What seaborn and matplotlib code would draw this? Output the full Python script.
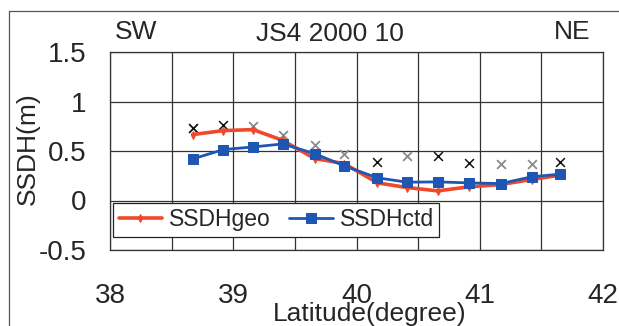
import numpy as np
import pandas as pd
import seaborn as sns
import matplotlib.pyplot as plt
from matplotlib.lines import Line2D

# --- data
lat = [38.67, 38.92, 39.16, 39.40, 39.66, 39.90, 40.17, 40.41, 40.66, 40.91, 41.17, 41.42, 41.65]
ssdh_geo = [0.666, 0.706, 0.716, 0.608, 0.424, 0.373, 0.178, 0.131, 0.097, 0.138, 0.161, 0.212, 0.255]
ssdh_ctd = [0.420, 0.514, 0.541, 0.571, 0.474, 0.350, 0.229, 0.185, 0.188, 0.178, 0.171, 0.239, 0.266]
cross_black = [0.733, 0.760, np.nan, np.nan, np.nan, np.nan, 0.393, np.nan, 0.447, 0.380, np.nan, np.nan, 0.390]
cross_grey = [0.733, np.nan, 0.750, 0.666, 0.565, 0.467, np.nan, 0.447, np.nan, np.nan, 0.366, 0.373, np.nan]

x_ticks = [38, 39, 40, 41, 42]
y_ticks = [-0.5, 0, 0.5, 1, 1.5]
y_ticklabels = ["-0.5", "0", "0.5", "1", "1.5"]

df = pd.DataFrame({"lat": lat, "SSDHgeo": ssdh_geo, "SSDHctd": ssdh_ctd,
                   "cb": cross_black, "cg": cross_grey})

sns.set_style("white")
plt.rcParams['font.family'] = ['Liberation Sans', 'DejaVu Sans']

fig = plt.figure(figsize=(6.19, 3.26), dpi=100)
ax = fig.add_axes([110 / 619, 76 / 326, 493 / 619, 198 / 326])

# crosses
sns.scatterplot(data=df, x="lat", y="cg", marker="x", color="#8a8a8a", s=40, linewidth=1.3, ax=ax, zorder=3)
sns.scatterplot(data=df, x="lat", y="cb", marker="x", color="#111111", s=40, linewidth=1.1, ax=ax, zorder=3)

# lines
sns.lineplot(data=df, x="lat", y="SSDHgeo", color="#f0482a", lw=2.6, marker="d", markersize=4,
             markeredgecolor="#f0482a", label="SSDHgeo", ax=ax, zorder=4)
sns.lineplot(data=df, x="lat", y="SSDHctd", color="#1f56b3", lw=2.0, marker="s", markersize=7,
             markeredgecolor="#1f56b3", label="SSDHctd", ax=ax, zorder=5)

ax.set_xlim(38, 42)
ax.set_ylim(-0.5, 1.5)
grid_x = np.arange(38, 42.01, 0.5)
ax.set_xticks(grid_x)
ax.set_xticklabels([str(int(v)) if v in x_ticks else "" for v in grid_x])
ax.set_yticks(y_ticks)
ax.set_yticklabels(y_ticklabels)
ax.grid(True, color="#333333", lw=0.9)
for s in ax.spines.values():
    s.set_color("#333333")
    s.set_linewidth(0.9)
ax.tick_params(axis="x", length=0, pad=24, labelsize=20)
ax.tick_params(axis="y", length=0, pad=17, labelsize=20)

ax.set_xlabel("Latitude(degree)", fontsize=19)
ax.xaxis.label.set_va("center")
ax.xaxis.set_label_coords(0.527, -0.323)
ax.set_ylabel("SSDH(m)", fontsize=19)
ax.yaxis.label.set_va("center")
ax.yaxis.set_label_coords(-0.166, 0.51)

leg = ax.legend(loc="lower left", bbox_to_anchor=(0.006, 0.065), ncol=2, fontsize=16.5, frameon=True,
                fancybox=False, edgecolor="#222222", framealpha=1, borderpad=0.25, handlelength=1.9,
                handletextpad=0.3, columnspacing=0.8, borderaxespad=0)
leg.get_frame().set_linewidth(0.9)

fig.text(115 / 619, 1 - 32 / 326, "SW", fontsize=19, ha="left", va="center")
fig.text(330 / 619, 1 - 34 / 326, "JS4 2000 10", fontsize=19, ha="center", va="center")
fig.text(590 / 619, 1 - 32 / 326, "NE", fontsize=19, ha="right", va="center")

# outer chart frame (left and top edges)
fig.add_artist(Line2D([9 / 619, 9 / 619], [0, 1 - 11 / 326], transform=fig.transFigure, color="#555555", lw=0.9))
fig.add_artist(Line2D([9 / 619, 1], [1 - 11 / 326, 1 - 11 / 326], transform=fig.transFigure, color="#555555", lw=0.9))

fig.savefig("out.png", dpi=100)
